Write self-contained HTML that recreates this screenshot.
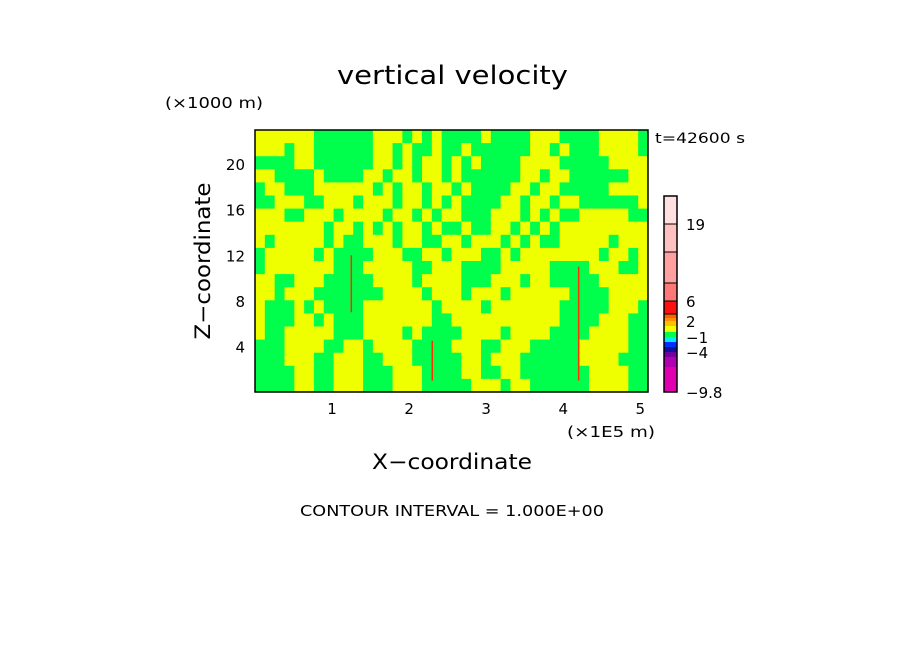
<!DOCTYPE html>
<html><head><meta charset="utf-8"><style>
body{margin:0;background:#fff;width:904px;height:654px;overflow:hidden}
svg{display:block;font-family:"DejaVu Sans","Liberation Sans",sans-serif}
</style></head><body>
<svg id="c" width="904" height="654">
<text x="337" y="84" font-size="26" textLength="231" lengthAdjust="spacingAndGlyphs">vertical velocity</text>
<text x="165" y="108" font-size="15" textLength="98" lengthAdjust="spacingAndGlyphs">(×1000 m)</text>
<text x="655" y="143" font-size="14" textLength="90" lengthAdjust="spacingAndGlyphs">t=42600 s</text>
<text x="567" y="437" font-size="15" textLength="88" lengthAdjust="spacingAndGlyphs">(×1E5 m)</text>
<text x="372" y="469" font-size="21" textLength="160" lengthAdjust="spacingAndGlyphs">X−coordinate</text>
<text x="0" y="0" font-size="21" text-anchor="middle" textLength="157" lengthAdjust="spacingAndGlyphs" transform="translate(210,261) rotate(-90)">Z−coordinate</text>
<text x="300" y="516" font-size="15" textLength="304" lengthAdjust="spacingAndGlyphs">CONTOUR INTERVAL = 1.000E+00</text>
<g id="field"></g>
<g id="axes"></g>
<g id="cbar"></g>
</svg>
<script>
const fieldRows = [
"yyyyyyggggggyyygygyggggyggggyyyggggyyyyg",
"yyygyyggggggyygyggyggyggggggyygygggyyyyg",
"ggggyyggggggyygygyygygyggggyyyygggggyyyy",
"yyggggyggggyygyygyygyggggggyygyyggggggyy",
"gyygggyyyyyygygyygyygyggggyygyygggggyyyy",
"ggyyyggyyygyyygyygygyggggyygyygyyggggggy",
"yyyggyyygyyyygyygygyygggyyygygyggyyyyygg",
"yyyyyyygyygygygyygyggyggyygygygyyyyyyyyy",
"ygyyyyygyggyyygyyggyygyyygygyggyyyyygyyy",
"gyyyyygyggggyyyggyygyyyggygyyyyyyyygyygy",
"gyyyyyyygggyyyyyggyyyggggyyyyyggggyyyggy",
"yyggyyygggggyyyygyyyygggyyygyygggggyyyyy",
"yygyyygggggggyyyygyyygyyygyyyyyyggggyyyy",
"ygggygyggggyyyyyyygyyyygyyyyyyygggggyyyg",
"ygggyygygggyyyyyyyggyyyyyyyyyyyggggyyygg",
"yggyyyyygggyyyygyggggyyyygyyyyggggyyyygg",
"gggyyyyggyygyyyyggggyyyggyyygggggyyyyygg",
"gggyyyggyyyggyyygggggyygyyyggggggyyyyggg",
"ggggyyggyyygggyyyggggyyggyygggggggyyyygg",
"ggggyyggyyygggyyygggggyyygyyggggggyyyygg"
];
const xTicks = [1,2,3,4,5];
const yTicks = [4,8,12,16,20];
const cbLevels = [-9.8,-7,-5,-4,-3,-2,-1,0,1,2,3,4,6,10,14,19,24];
const cbColors = ["#e000b0","#b000b0","#7000a0","#1010a0","#0030ff","#00e8ff","#00ff4c","#f0ff00","#ffc000","#ff9000","#ff6000","#ff1010","#ff7878","#ffa0a0","#ffc0c0","#ffe0e0"];
const cbTickLabels = ["-9.8","-4","-1","2","6","19"];
const cbTickValues = [-9.8,-4,-1,2,6,19];
const spikes = [[1.25,7,12],[4.2,1,11],[2.3,1,4.5]];

const NS="http://www.w3.org/2000/svg";
const L=255,R=648,T=130,B=392;
const xMin=0,xMax=5.1,zMin=0,zMax=23;
const sx=v=>L+(v-xMin)/(xMax-xMin)*(R-L);
const sz=v=>B-(v-zMin)/(zMax-zMin)*(B-T);
function mk(tag,attrs,parent){const e=document.createElementNS(NS,tag);for(const k in attrs)e.setAttribute(k,attrs[k]);parent.appendChild(e);return e;}
const field=document.getElementById('field');
const nr=fieldRows.length,nc=fieldRows[0].length;
const cw=(R-L)/nc,ch=(B-T)/nr;
fieldRows.forEach((row,i)=>{[...row].forEach((c,j)=>{
  const r=mk('rect',{x:L+j*cw,y:T+i*ch,width:cw+0.5,height:ch+0.5,fill:c==='y'?'#f0ff00':'#00ff4c'},field);
  
  
});});
spikes.forEach(s=>{
  const l=mk('line',{x1:sx(s[0]),x2:sx(s[0]),y1:sz(s[2]),y2:sz(s[1]),stroke:'#ff3000','stroke-width':1.5},field);
  
  
});
const axes=document.getElementById('axes');
const fr=mk('rect',{x:L,y:T,width:R-L,height:B-T,fill:'none',stroke:'#000','stroke-width':1.5},axes);


xTicks.forEach(v=>{
  const t=mk('text',{x:sx(v),y:414,'font-size':15,'text-anchor':'middle'},axes);t.textContent=v;
  
  
});
yTicks.forEach(v=>{
  const t=mk('text',{x:245,y:sz(v)+6,'font-size':15,'text-anchor':'end'},axes);t.textContent=v;
  
  
});
const cb=document.getElementById('cbar');
const cB=392,cx=664,cwid=13;
const n=cbColors.length;
const segH=[25,10,5,5,5,5,5,6,5,3,4,13,18,31,28,28];
let y=cB;
segH.forEach((h,i)=>{
  y-=h;
  const r=mk('rect',{x:cx,y:y,width:cwid,height:h,fill:cbColors[i],stroke:i>=11?'#000':'none','stroke-width':1},cb);
  
  
});
const ob=mk('rect',{x:cx,y:y,width:cwid,height:cB-y,fill:'none',stroke:'#000','stroke-width':1.5},cb);


function levelY(v){let yy=cB;for(let i=0;i<n;i++){const a=cbLevels[i],b=cbLevels[i+1];if(v<=b){return yy-(v-a)/(b-a)*segH[i];}yy-=segH[i];}return yy;}
cbTickLabels.forEach((lab,i)=>{
  const t=mk('text',{x:686,y:levelY(cbTickValues[i])+6,'font-size':15},cb);t.textContent=lab.replace('-','−');
  
  
});
</script>
</body></html>
